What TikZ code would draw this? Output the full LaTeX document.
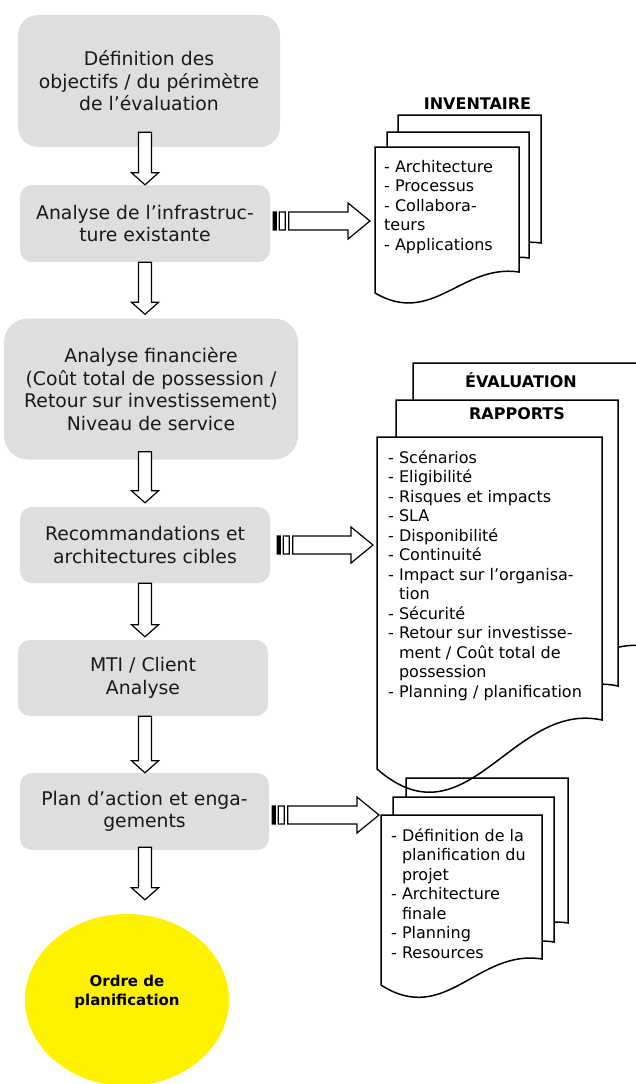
\documentclass[tikz,border=0pt]{standalone}
\usepackage{fontspec}
\setmainfont{DejaVu Sans}
\usetikzlibrary{shapes.geometric,calc}
\definecolor{grisclair}{RGB}{222,222,222}
\newcommand{\feuille}[6][fill=white]{\draw[line width=1.5pt,#1] (#2,#3) -- (#4,#3) -- (#4,#5) .. controls ({#2+0.6*(#4-#2)},{#5-0.4*(#6-#5)}) and ({#2+0.4*(#4-#2)},{#6+1.6*(#6-#5)}) .. (#2,#6) -- cycle;}

\begin{document}
\begin{tikzpicture}[x=1pt,y=-1pt]
\tikzset{etape/.style={fill=grisclair, rounded corners=12pt, align=center, inner sep=0pt, text=black!90, font=\fontsize{18.8}{22.5}\selectfont},
fleche/.style={draw, fill=white, line width=1.2pt, to path={let \p1=(\tikztostart), \p2=(\tikztotarget) in (\x1-6.5pt,\y1) -- (\x1-6.5pt,\y2+12pt) -- (\x1-13.5pt,\y2+12pt) -- (\x1,\y2) -- (\x1+13.5pt,\y2+12pt) -- (\x1+6.5pt,\y2+12pt) -- (\x1+6.5pt,\y1) -- cycle}},
flechecote/.style={draw, fill=white, line width=1.2pt, to path={let \p1=(\tikztostart), \p2=(\tikztotarget) in (\x1,\y2-9pt) rectangle (\x1+1pt,\y2+9pt) (\x1+2pt,\y2-9pt) rectangle (\x1+3pt,\y2+9pt) (\x1+6pt,\y2-9pt) rectangle (\x1+12pt,\y2+9pt) (\x1+15.5pt,\y2-9pt) -- (\x2-22pt,\y2-9pt) -- (\x2-22pt,\y2-18pt) -- (\x2,\y2) -- (\x2-22pt,\y2+18pt) -- (\x2-22pt,\y2+9pt) -- (\x1+15.5pt,\y2+9pt) -- cycle}},
liste/.style={anchor=north west, align=left, inner sep=0pt, font=\fontsize{16}{19.5}\selectfont},
titre/.style={anchor=base, inner sep=0pt, font=\bfseries\fontsize{16}{19}\selectfont}}
\useasboundingbox (0,0) rectangle (636,1084);
\clip (0,0) rectangle (636,1084);
\coordinate (ax) at (145,0);
\node[etape, rounded corners=20pt, minimum width=262pt, minimum height=132pt] (E1) at (149,81) {Définition des\\objectifs / du périmètre\\de l’évaluation};
\node[etape, minimum width=250pt, minimum height=77pt] (E2) at (145,223.5) {Analyse de l’infrastruc-\\ture existante};
\node[etape, rounded corners=24pt, minimum width=294pt, minimum height=141pt] (E3) at (151,389) {Analyse financière\\(Coût total de possession /\\Retour sur investissement)\\Niveau de service};
\node[etape, minimum width=250pt, minimum height=76pt] (E4) at (145,545) {Recommandations et\\architectures cibles};
\node[etape, minimum width=250pt, minimum height=76pt] (E5) at (143,678) {MTI / Client\\Analyse};
\node[etape, minimum width=249pt, minimum height=77pt] (E6) at (144.5,811.5) {Plan d’action et enga-\\gements};
\node[ellipse, fill=yellow, minimum width=204pt, minimum height=172pt, inner sep=0pt] (F) at (127,1000) {};
\node[align=center, inner sep=0pt, font=\bfseries\fontsize{15}{19}\selectfont] at ([yshift=8pt]F.center) {Ordre de\\planification};
\feuille{398}{115}{541}{243}{264}
\feuille{387}{132}{529}{258}{279}
\feuille{375}{147}{519}{272}{293}
\node[titre] at (477.5,109) {INVENTAIRE};
\node[liste] (L1) at (384,160) {- Architecture\\- Processus\\- Collabora-\\teurs\\- Applications};
\feuille{413}{363}{655}{647}{695}
\feuille{396}{400}{618}{686}{735}
\feuille{377}{437}{602}{720}{769}
\node[titre] at (521,387) {ÉVALUATION};
\node[titre] at (517,419) {RAPPORTS};
\node[liste] (L2) at (388,450) {- Scénarios\\- Eligibilité\\- Risques et impacts\\- SLA\\- Disponibilité\\- Continuité\\- Impact sur l’organisa-\\\phantom{- }tion\\- Sécurité\\- Retour sur investisse-\\\phantom{- }ment / Coût total de\\\phantom{- }possession\\- Planning / planification};
\feuille[fill=none]{406}{778}{568}{923}{949}
\feuille{393}{797}{554}{942}{968}
\feuille{381}{815}{542}{959}{985}
\node[liste] (L3) at (391,828) {- Définition de la\\\phantom{- }planification du\\\phantom{- }projet\\- Architecture\\\phantom{- }finale\\- Planning\\- Resources};
\coordinate (inv) at (370,221);
\coordinate (eva) at (373,545);
\coordinate (pla) at (379,815);
\draw[fleche] ([yshift=15pt]ax |- E1.south) to (ax |- E2.north);
\draw[fleche] (ax |- E2.south) to ([yshift=4pt]ax |- E3.north);
\draw[fleche] ([yshift=8pt]ax |- E3.south) to ([yshift=4pt]ax |- E4.north);
\draw[fleche] (ax |- E4.south) to ([yshift=3pt]ax |- E5.north);
\draw[fleche] (ax |- E5.south) to (ax |- E6.north);
\draw[fleche] ([yshift=3pt]ax |- E6.south) to ([yshift=14pt]ax |- F.north);
\draw[flechecote] ([xshift=3pt]E2.east) to (inv);
\draw[flechecote] ([xshift=7pt]E4.east) to (eva);
\draw[flechecote] ([xshift=3pt]E6.east) to (pla);
\end{tikzpicture}
\end{document}
